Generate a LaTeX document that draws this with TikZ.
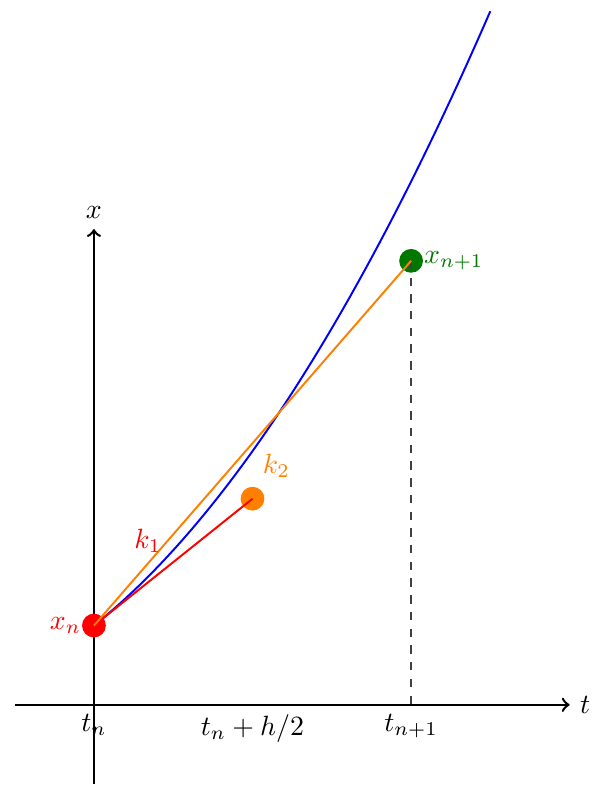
\documentclass[tikz,border=0pt]{standalone}
\definecolor{dkgreen}{RGB}{0,120,0}
\begin{document}
\begin{tikzpicture}[
  axis/.style={line width=0.9pt,->},
  dot/.style={circle,fill,inner sep=0pt,minimum size=0.3cm},
  seg/.style={line width=0.7pt}
]
\useasboundingbox (-1.185,-1.15) rectangle (6.53,8.89);
% axes
\coordinate (xl) at (-1,0);
\coordinate (xr) at (6,0);
\coordinate (yb) at (0,-1);
\coordinate (yt) at (0,6);
\draw[axis] (xl) -- (xr) node[right] (tlab) {$t$};
\draw[axis] (yb) -- (yt) node[above] (xlab) {$x$};
% curve
\draw[blue,seg] plot[domain=0:5,samples=60,smooth] (\x,{1+0.8*\x+0.15*\x*\x});
% points
\node[dot,red] (xn) at (0,1) {};
\node[dot,orange] (k2p) at (2,2.6) {};
\node[dot,dkgreen] (xn1) at (4,5.6) {};
\coordinate (tn1) at (4,0);
% lines
\draw[dashed,black!75,line width=0.6pt] (xn1.center) -- (tn1);
\draw[red,seg] (xn.center) -- (k2p.center);
\draw[orange,seg] (xn.center) -- (xn1.center);
% labels
\node[red,left,inner sep=0pt] (lxn) at (xn.west) {$x_n$};
\node[red] (lk1) at (0.68,2.07) {$k_1$};
\node[orange] (lk2) at (2.3,3.01) {$k_2$};
\node[dkgreen,right,inner sep=0pt] (lxn1) at (xn1.east) {$x_{n+1}$};
\node[below] (ltn) at (0,0) {$t_n$};
\node[below] (lth) at (2,0) {$t_n+h/2$};
\node[below] (ltn1) at (4,0) {$t_{n+1}$};
\end{tikzpicture}
\end{document}
